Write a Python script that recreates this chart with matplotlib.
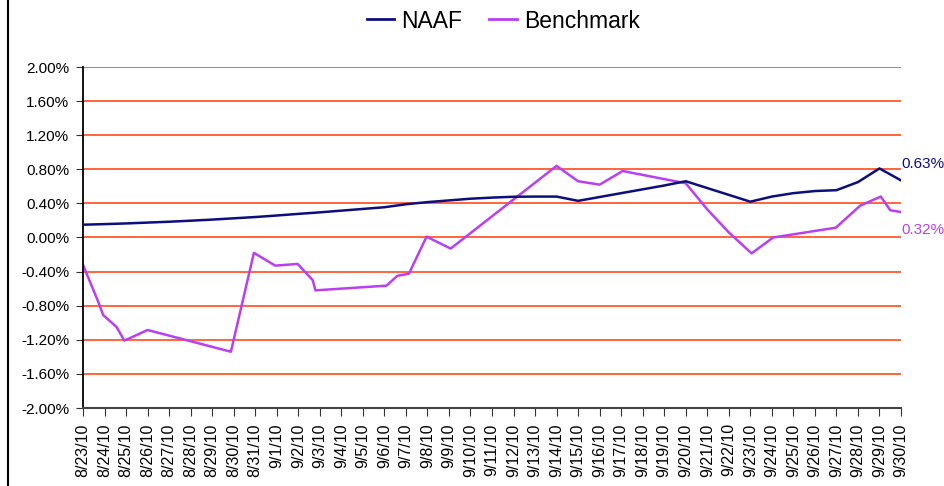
import matplotlib
matplotlib.use("Agg")
import matplotlib.pyplot as plt
import matplotlib.transforms as mtransforms
from matplotlib.lines import Line2D

plt.rcParams['font.family'] = ['Liberation Sans', 'DejaVu Sans']

# x tick labels, one per calendar day
dates = ['8/23/10', '8/24/10', '8/25/10', '8/26/10', '8/27/10', '8/28/10', '8/29/10',
         '8/30/10', '8/31/10', '9/1/10', '9/2/10', '9/3/10', '9/4/10', '9/5/10',
         '9/6/10', '9/7/10', '9/8/10', '9/9/10', '9/10/10', '9/11/10', '9/12/10',
         '9/13/10', '9/14/10', '9/15/10', '9/16/10', '9/17/10', '9/18/10', '9/19/10',
         '9/20/10', '9/21/10', '9/22/10', '9/23/10', '9/24/10', '9/25/10', '9/26/10',
         '9/27/10', '9/28/10', '9/29/10', '9/30/10']

# NAAF cumulative return (%), one value per day
naaf = [0.15, 0.157, 0.165, 0.175, 0.185, 0.197, 0.21, 0.225, 0.24, 0.258, 0.277,
        0.295, 0.315, 0.335, 0.355, 0.39, 0.415, 0.435, 0.455, 0.468, 0.478, 0.48,
        0.48, 0.43, 0.475, 0.52, 0.565, 0.61, 0.66, 0.58, 0.50, 0.42, 0.48, 0.52,
        0.545, 0.555, 0.65, 0.81, 0.67]

# Benchmark cumulative return (%), at irregular times (days since 8/23)
bench_day = [0, 0.67, 0.94, 1.56, 1.92, 3.0, 6.87, 7.94, 8.93, 9.97, 10.67, 10.8,
             14.1, 14.6, 15.14, 15.96, 17.08, 22.0, 23.0, 24.0, 25.07, 28.0, 29.0,
             30.0, 31.06, 32.06, 34.97, 36.1, 37.06, 37.5, 37.95]
bench_val = [-0.32, -0.73, -0.91, -1.05, -1.21, -1.085, -1.34, -0.18, -0.33, -0.31,
             -0.50, -0.62, -0.565, -0.45, -0.425, 0.01, -0.13, 0.84, 0.66, 0.62, 0.78,
             0.636, 0.33, 0.06, -0.186, 0.0, 0.115, 0.373, 0.48, 0.32, 0.30]

yticks = [-2.0, -1.6, -1.2, -0.8, -0.4, 0.0, 0.4, 0.8, 1.2, 1.6, 2.0]

naaf_label = '0.63%'
bench_label = '0.32%'

naaf_color = '#0d0d80'
bench_color = '#b940f2'
grid_color = '#ff4a1a'

fig = plt.figure(figsize=(9.44, 4.86), dpi=100)
ax = fig.add_axes([83 / 944, 1 - 408 / 486, 818 / 944, 341 / 486])

for yv in yticks[1:]:
    ax.axhline(yv, color=grid_color, lw=1.2, zorder=1)

ax.plot(range(len(naaf)), naaf, color=naaf_color, lw=1.8, zorder=3)
ax.plot(bench_day, bench_val, color=bench_color, lw=1.8, zorder=2)

ax.set_xlim(0, len(dates) - 1)
ax.set_ylim(-2.0, 2.0)
ax.set_yticks(yticks)
ax.set_yticklabels(['%.2f%%' % v for v in yticks], fontsize=11)
ax.set_xticks(range(len(dates)))
ax.set_xticklabels(dates, rotation=90, fontsize=11.5)
ax.tick_params(axis='y', direction='out', length=5, color='#333333', pad=5)
ax.tick_params(axis='x', direction='out', length=6, color='#333333', pad=5)

for s in ['top', 'right']:
    ax.spines[s].set_visible(False)
ax.spines['left'].set_color('black')
ax.spines['left'].set_linewidth(1.3)
ax.spines['bottom'].set_color('#444444')
ax.spines['bottom'].set_linewidth(1.5)

# end labels
trans = mtransforms.blended_transform_factory(ax.transAxes, ax.transData)
ax.text(1.0, 0.86, naaf_label, transform=trans, fontsize=11, color=naaf_color,
        va='center', ha='left')
ax.text(1.0, 0.09, bench_label, transform=trans, fontsize=11, color=bench_color,
        va='center', ha='left')

handles = [Line2D([], [], color=naaf_color, lw=2),
           Line2D([], [], color=bench_color, lw=2)]
fig.legend(handles, ['NAAF', 'Benchmark'], loc='center', bbox_to_anchor=(0.533, 1 - 21 / 486),
           ncol=2, frameon=False, fontsize=16.5, handlelength=1.2, handletextpad=0.3,
           columnspacing=1.2)

# left border line of the picture
fig.add_artist(Line2D([8 / 944, 8 / 944], [0, 1], transform=fig.transFigure,
                      color='black', lw=1.5))

fig.savefig('out.png', dpi=100)
